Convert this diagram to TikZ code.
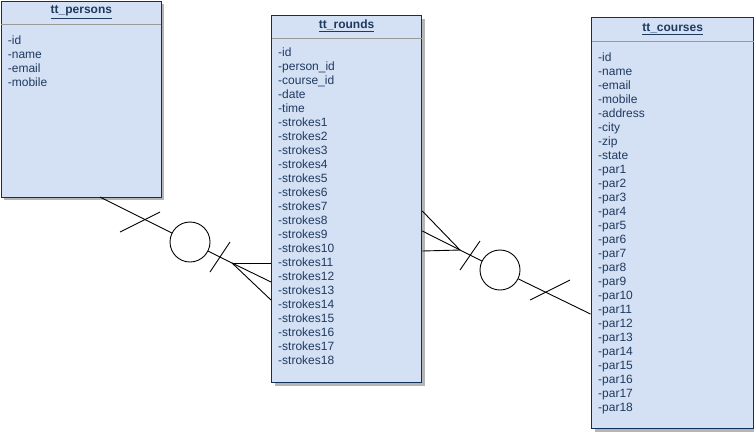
\documentclass[tikz,border=0pt]{standalone}
\usepackage{fontspec}
\setmainfont{Liberation Sans}
\usetikzlibrary{calc,shadows}
\definecolor{boxfill}{HTML}{D4E1F5}
\definecolor{boxline}{HTML}{10305A}
\definecolor{boxtext}{HTML}{1F3A5F}
\definecolor{sepline}{HTML}{999999}
\definecolor{shadowgray}{HTML}{B5B5B5}
\tikzset{
  entity/.style={draw=boxline, line width=1.3pt, fill=boxfill, rectangle, anchor=north west, inner sep=0pt,
    drop shadow={shadow xshift=3pt, shadow yshift=-3pt, fill=shadowgray, opacity=1}},
  sep/.style={draw=sepline, line width=1pt},
  title/.style={text=boxtext, font=\fontsize{12}{14}\selectfont\bfseries, inner sep=0pt},
  rows/.style={text=boxtext, font=\fontsize{12}{14}\selectfont, align=left, anchor=north west, inner sep=0pt},
  rel/.style={draw=black, line width=0.9pt},
  opt/.style={circle, draw=black, line width=0.9pt, fill=white, minimum size=40pt, inner sep=0pt}
}
\begin{document}
\begin{tikzpicture}[x=1pt,y=-1pt]
\useasboundingbox (0,0) rectangle (754,432);
% entities
\node[entity, minimum width=160pt, minimum height=196pt] (persons) at (0.7,0.7) {};
\node[entity, minimum width=150pt, minimum height=367pt] (rounds) at (271,15) {};
\node[entity, minimum width=162pt, minimum height=411pt] (courses) at (591,17) {};
% header separators
\draw[sep] ($(persons.north west)+(0.7,24)$) -- ($(persons.north east)+(-0.7,24)$);
\draw[sep] ($(rounds.north west)+(0.7,23)$) -- ($(rounds.north east)+(-0.7,23)$);
\draw[sep] ($(courses.north west)+(0.7,24)$) -- ($(courses.north east)+(-0.7,24)$);
% titles
\node[title] (tpersons) at ($(persons.north)+(0,11.5)$) {\underline{tt\_persons}};
\node[title] (trounds) at ($(rounds.north)+(0,10.5)$) {\underline{tt\_rounds}};
\node[title] (tcourses) at ($(courses.north)+(0,12)$) {\underline{tt\_courses}};
% rows
\node[rows] (rpersons) at ($(persons.north west)+(7,34.5)$) {-id\\-name\\-email\\-mobile};
\node[rows] (rrounds) at ($(rounds.north west)+(7,32.5)$) {-id\\-person\_id\\-course\_id\\-date\\-time\\-strokes1\\-strokes2\\-strokes3\\-strokes4\\-strokes5\\-strokes6\\-strokes7\\-strokes8\\-strokes9\\-strokes10\\-strokes11\\-strokes12\\-strokes13\\-strokes14\\-strokes15\\-strokes16\\-strokes17\\-strokes18};
\node[rows] (rcourses) at ($(courses.north west)+(7,35.5)$) {-id\\-name\\-email\\-mobile\\-address\\-city\\-zip\\-state\\-par1\\-par2\\-par3\\-par4\\-par5\\-par6\\-par7\\-par8\\-par9\\-par10\\-par11\\-par12\\-par13\\-par14\\-par15\\-par16\\-par17\\-par18};
% relationship persons - rounds
\coordinate (p1) at (100,197);
\node[opt] (c1) at (190,242) {};
\coordinate (f1) at (232,263);
\draw[rel] (p1) -- (c1);
\draw[rel] (c1) -- (f1);
\draw[rel] (f1) -- (rounds.west |- 0,263);
\draw[rel] (f1) -- (rounds.west |- 0,282);
\draw[rel] (f1) -- (rounds.west |- 0,300);
\coordinate (b1a) at (120,232); \coordinate (b1b) at (160,212);
\coordinate (b2a) at (210,272); \coordinate (b2b) at (230,242);
\draw[rel] (b1a) -- (b1b);
\draw[rel] (b2a) -- (b2b);
% relationship rounds - courses
\coordinate (f2) at (460,250);
\node[opt] (c2) at (500,270) {};
\coordinate (q1) at (590.5,314);
\draw[rel] (rounds.east |- 0,211) -- (f2);
\draw[rel] (rounds.east |- 0,231) -- (f2);
\draw[rel] (rounds.east |- 0,251) -- (f2);
\draw[rel] (f2) -- (c2);
\draw[rel] (c2) -- (q1);
\coordinate (b3a) at (460,270); \coordinate (b3b) at (480,241);
\coordinate (b4a) at (530,300); \coordinate (b4b) at (570,280);
\draw[rel] (b3a) -- (b3b);
\draw[rel] (b4a) -- (b4b);
\end{tikzpicture}
\end{document}
